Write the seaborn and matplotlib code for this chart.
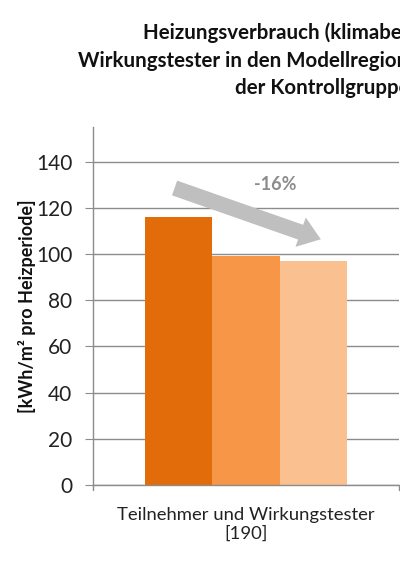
import seaborn as sns
import matplotlib.pyplot as plt
import pandas as pd

# Werte
kategorie = ["Teilnehmer und Wirkungstester\n[190]"]
reihen = ["Reihe 1", "Reihe 2", "Reihe 3"]
werte = [116, 99, 97]
farben = ["#E36C0A", "#F79646", "#FAC090"]
yticks = [0, 20, 40, 60, 80, 100, 120, 140]
titel = ["Heizungsverbrauch (klimabereinigt) der Teilnehmer und",
         "Wirkungstester in den Modellregionen im Vergleich zu",
         "der Kontrollgruppe"]
aenderung = "-16%"

df = pd.DataFrame({"kategorie": kategorie * 3, "reihe": reihen, "wert": werte})

sns.set_style("white")
plt.rcParams["font.family"] = ["Lato", "DejaVu Sans"]

fig = plt.figure(figsize=(4, 5.66), dpi=100)
ax = fig.add_axes([0.2325, 0.1431, 0.765, 0.6325])

sns.barplot(data=df, x="kategorie", y="wert", hue="reihe", palette=farben,
            width=0.66, saturation=1, legend=False, ax=ax, errorbar=None,
            linewidth=0)

ax.set_xlim(-0.5, 0.5)
ax.set_ylim(0, 155)
ax.set_yticks(yticks)
ax.yaxis.grid(True, color="#8c8c8c", linewidth=1)
ax.set_axisbelow(True)
for s in ["top", "right"]:
    ax.spines[s].set_visible(False)
for s in ["left", "bottom"]:
    ax.spines[s].set_color("#8c8c8c")
    ax.spines[s].set_linewidth(1)

ax.tick_params(axis="y", left=True, length=6, color="#8c8c8c", labelsize=15,
               labelcolor="#222222", pad=9)
ax.set_xticks([0])
ax.set_xticklabels(kategorie, fontsize=13.3, color="#222222", linespacing=1.2)
ax.tick_params(axis="x", bottom=False, pad=12)
# Kategoriegrenzen als Striche unten
for xb in [-0.5, 0.5]:
    ax.plot([xb, xb], [0, -0.015], transform=ax.get_xaxis_transform(),
            color="#8c8c8c", lw=1, clip_on=False)

ax.set_xlabel("")
ax.set_ylabel("[kWh/m² pro Heizperiode]", fontsize=13, fontweight="bold",
              color="#111111", labelpad=0)

# Pfeil fuer die Veraenderung
b = ax.patches
x0 = b[0].get_x() + b[0].get_width() * 0.4
x1 = b[2].get_x() + b[2].get_width() * 0.65
ax.annotate("", xy=(x1, werte[1] + 7), xytext=(x0, werte[0] + 13),
            arrowprops=dict(arrowstyle="simple,head_width=1.6,head_length=1.1,tail_width=0.8",
                            color="#BFBFBF", mutation_scale=14, lw=0))
ax.text((b[1].get_x() + b[2].get_x() + b[2].get_width()) / 2 - 0.015, 130, aenderung,
        ha="center", va="center", fontsize=13, fontweight="bold", color="#8c8c8c")

# Titel (rechts abgeschnitten wie im Original)
fig.text(143 / 400, 1 - 33 / 566, titel[0], ha="left", va="center",
         fontsize=14.8, fontweight="bold", color="#111111")
fig.text(78 / 400, 1 - 61 / 566, titel[1], ha="left", va="center",
         fontsize=14.8, fontweight="bold", color="#111111")
fig.text(235 / 400, 1 - 88 / 566, titel[2], ha="left", va="center",
         fontsize=14.8, fontweight="bold", color="#111111")

fig.savefig("out.png", dpi=100)
